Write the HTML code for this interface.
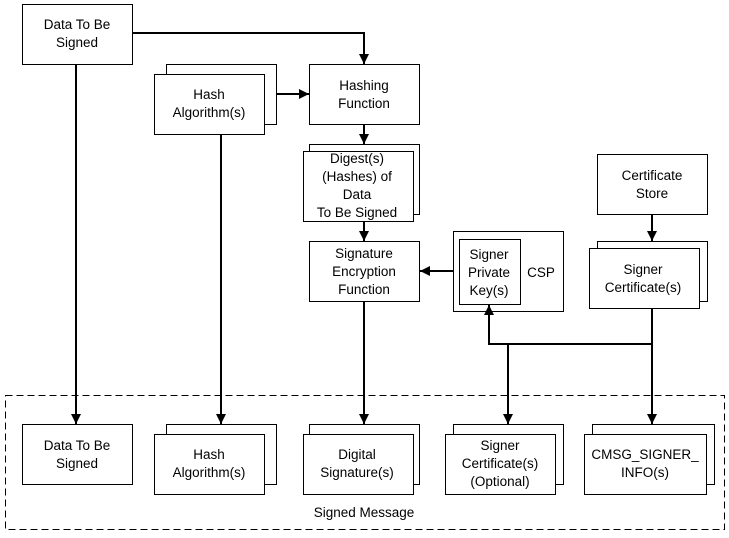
<!DOCTYPE html>
<html><head><style>
body{margin:0;background:#fff;}
svg text{font-family:"Liberation Sans",sans-serif;font-size:13.5px;fill:#000;text-anchor:middle;}
</style></head><body>
<svg width="729" height="533" xmlns="http://www.w3.org/2000/svg">
<defs><marker id="a" viewBox="0 0 10 10" refX="10" refY="5" markerWidth="5" markerHeight="5" orient="auto"><path d="M0,0 L10,5 L0,10 z" fill="#000"/></marker></defs>
<g fill="#fff" stroke="#000" stroke-width="1">
<rect x="22.5" y="4.5" width="110" height="60"/>
<rect x="166.5" y="64.5" width="110" height="60"/><rect x="154.5" y="74.5" width="110" height="60"/>
<rect x="309.5" y="64.5" width="110" height="60"/>
<rect x="309.5" y="144.5" width="110" height="70"/><rect x="303.5" y="151.5" width="110" height="70"/>
<rect x="309.5" y="241.5" width="110" height="60"/>
<rect x="453.5" y="231.5" width="110" height="80"/><rect x="459.5" y="239.5" width="61" height="65"/>
<rect x="597.5" y="154.5" width="110" height="60"/>
<rect x="597.5" y="241.5" width="110" height="60"/><rect x="589.5" y="248.5" width="110" height="60"/>
<rect x="22.5" y="424.5" width="110" height="60"/>
<rect x="166.5" y="424.5" width="110" height="60"/><rect x="154.5" y="434.5" width="110" height="60"/>
<rect x="309.5" y="424.5" width="110" height="60"/><rect x="303.5" y="434.5" width="110" height="60"/>
<rect x="453.5" y="424.5" width="110" height="60"/><rect x="445.5" y="434.5" width="110" height="60"/>
<rect x="592.5" y="424.5" width="122" height="60"/><rect x="584.5" y="434.5" width="122" height="60"/>
</g>
<rect x="5.5" y="395.5" width="719" height="134" fill="none" stroke="#000" stroke-dasharray="7,4"/>
<g stroke="#000" stroke-width="2" fill="none" marker-end="url(#a)">
<path d="M132,33 H364 V64"/>
<path d="M276,94 H309"/>
<path d="M364,124 V144"/>
<path d="M364,221 V241"/>
<path d="M453,271 H420"/>
<path d="M652,214 V241"/>
<path d="M652,344 H489 V305"/>
<path d="M508,344 V424"/>
<path d="M652,308 V424"/>
<path d="M76,64 V424"/>
<path d="M221,134 V424"/>
<path d="M364,301 V424"/>
</g>
<text x="77" y="29">Data To Be</text><text x="77" y="47">Signed</text>
<text x="209" y="99">Hash</text><text x="209" y="117">Algorithm(s)</text>
<text x="364" y="90">Hashing</text><text x="364" y="108">Function</text>
<text x="357" y="163">Digest(s)</text><text x="357" y="181">(Hashes) of</text><text x="357" y="199">Data</text><text x="357" y="217">To Be Signed</text>
<text x="364" y="258">Signature</text><text x="364" y="276">Encryption</text><text x="364" y="294">Function</text>
<text x="489" y="259">Signer</text><text x="489" y="277">Private</text><text x="489" y="295">Key(s)</text>
<text x="541" y="277">CSP</text>
<text x="652" y="180">Certificate</text><text x="652" y="198">Store</text>
<text x="643" y="274">Signer</text><text x="643" y="292">Certificate(s)</text>
<text x="77" y="450">Data To Be</text><text x="77" y="468">Signed</text>
<text x="209" y="459">Hash</text><text x="209" y="477">Algorithm(s)</text>
<text x="357" y="459">Digital</text><text x="357" y="477">Signature(s)</text>
<text x="500" y="450">Signer</text><text x="500" y="468">Certificate(s)</text><text x="500" y="486">(Optional)</text>
<text x="645" y="459">CMSG_SIGNER_</text><text x="645" y="477">INFO(s)</text>
<text x="364" y="517">Signed Message</text>
</svg>
</body></html>
